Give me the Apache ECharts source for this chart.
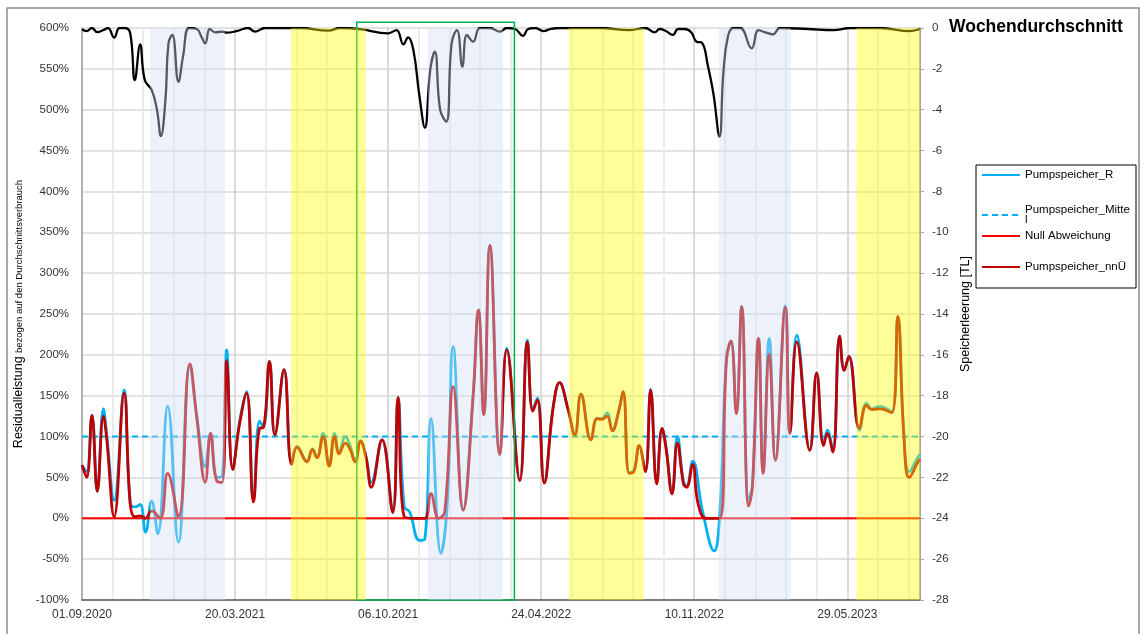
<!DOCTYPE html>
<html>
<head>
<meta charset="utf-8">
<script src="https://cdn.jsdelivr.net/npm/echarts@6/dist/echarts.min.js"></script>
<style>html,body{margin:0;padding:0;background:#fff;}#c{width:1144px;height:634px;}</style>
</head>
<body>
<div id="c"></div>
<script>
// x values are days since 01.09.2020
const xTickLabels = ['01.09.2020','20.03.2021','06.10.2021','24.04.2022','10.11.2022','29.05.2023'];

// Pumpspeicher_nnÜ (%)
const nnuDays = [0,6,13,20,28,32,42,55,63,69,76,83,91,102,112,126,141,150,161,168,176,183,189,197,206,215,224,232,237,245,252,264,274,281,294,301,307,315,323,330,336,344,350,357,364,371,378,392,406,413,421,435,448,456,466,474,485,498,511,518,525,533,546,555,572,582,589,595,604,616,624,635,644,652,665,673,679,686,693,701,707,715,721,728,736,743,751,758,763,771,778,786,790,798,805,816,833,842,848,855,862,871,876,884,890,898,906,919,925,934,951,960,969,974,981,990,996,1002,1016,1025,1032,1043,1058,1066,1074,1081,1093,1095];
const nnuValues = [65,50,126,33,125,100,2,153,18,2,3,0,9,0,55,2,189,123,44,104,46,44,193,60,116,153,20,110,111,192,102,182,66,87,69,84,74,100,64,100,79,92,85,69,94,75,38,96,7,148,2,0,0,30,0,8,161,10,148,255,127,334,78,206,46,216,131,145,43,138,166,134,102,152,96,122,121,125,107,130,155,55,57,89,57,157,42,110,87,30,92,42,38,66,18,0,0,193,217,128,259,15,38,220,55,201,71,258,104,216,83,178,89,104,81,223,181,198,110,138,133,134,129,247,100,50,70,72];

// Pumpspeicher_R (%)
const rDays = [0,6,13,20,28,32,42,55,63,70,76,83,91,99,112,126,141,150,161,168,176,183,189,197,206,215,224,232,237,245,252,264,274,281,294,301,307,315,323,330,336,344,350,357,364,371,378,392,406,413,421,428,441,448,456,469,477,485,498,511,518,525,533,546,555,572,582,589,595,604,616,624,635,644,652,665,673,679,686,693,701,707,715,721,728,736,743,751,758,763,771,778,786,790,798,811,826,833,842,848,855,862,871,876,884,890,898,906,919,925,934,951,960,969,974,981,990,996,1002,1016,1025,1032,1043,1058,1066,1074,1081,1093,1095];
const rValues = [65,57,126,33,134,105,22,157,18,14,17,-17,21,-19,137,-29,187,125,63,104,50,51,206,60,119,155,22,119,112,192,102,182,68,88,70,85,75,104,65,104,80,100,90,70,95,76,44,96,9,148,14,8,-27,-25,122,-43,14,210,10,150,255,127,334,78,208,48,218,133,147,45,138,166,134,102,152,97,122,122,129,108,130,155,56,58,89,58,158,44,110,88,32,100,44,40,70,8,-40,0,195,217,130,259,24,40,220,57,220,72,260,104,224,84,178,91,108,83,223,181,198,108,141,134,137,130,247,102,57,76,78];

// Pumpspeicher_Mittel and Null Abweichung (%)
const refDays = [0,1095];
const mittelValues = [100,100];
const nullValues = [0,0];

// Speicherleerung [TL] (right axis)
const sDays = [0,6,13,20,28,34,42,49,56,63,69,76,82,91,98,103,109,113,118,126,132,140,150,156,161,167,174,183,189,202,217,226,239,285,322,337,363,400,411,420,426,433,441,448,455,461,468,476,483,490,497,503,511,520,533,546,555,566,576,583,592,603,612,625,677,716,736,748,755,763,772,779,788,796,803,810,818,825,833,838,844,851,860,875,884,892,903,912,949,982,1004,1043,1082,1095];
const sValues = [-0.06,-0.15,0,-0.2,-0.1,0,-0.47,0,0,-0.26,-2.55,-0.8,-2.55,-3.03,-4.01,-5.29,-3.52,-0.75,-0.34,-2.63,-1.4,0,-0.05,-0.42,-0.75,-0.05,-0.21,-0.18,-0.23,-0.15,0,-0.18,0,0,-0.13,0,-0.05,-0.26,-0.1,-0.8,-0.46,-1.08,-3.36,-4.88,-2.06,-1.16,-4.01,-4.58,-0.75,-0.1,-1.89,-0.34,-0.67,0,0,-0.18,0,-0.05,-0.39,-0.05,0,-0.15,-0.05,0,0,-0.1,0,-0.21,-0.05,-0.15,-0.34,-0.05,-0.05,-0.21,-0.67,-0.72,-1.89,-3.2,-5.32,-2.22,-0.42,0,0,-1.0,-0.1,-0.2,-0.31,0,-0.05,-0.1,0,0,-0.15,-0.05];

// shaded periods (start day, end day)
const winterBands = [[89,187],[452,550],[832,926]];
const summerBands = [[273,371],[636,734],[1012,1095]];
// highlighted window: start day, end day, bottom %, top %
const focusBox = [[359,565,-100,607]];

const zip = (a, b) => a.map((d, i) => [d, b[i]]);
const FONT = 'Liberation Sans';

const chart = echarts.init(document.getElementById('c'), null, {renderer: 'canvas'});

function bandRenderer(color) {
  return function (params, api) {
    const cs = params.coordSys;
    const p0 = api.coord([api.value(0), 0]);
    const p1 = api.coord([api.value(1), 0]);
    return {
      type: 'rect',
      shape: {x: p0[0], y: cs.y, width: p1[0] - p0[0], height: cs.height},
      style: {fill: color}
    };
  };
}

const legendBase = {
  orient: 'vertical', left: 981, itemWidth: 38, itemHeight: 12, itemGap: 0, padding: 0,
  selectedMode: false, z: 10,
  itemStyle: {opacity: 0, borderWidth: 0},
  textStyle: {fontSize: 11.5, color: '#000', fontFamily: FONT}
};

chart.setOption({
  animation: false,
  textStyle: {fontFamily: FONT},
  title: {
    text: 'Wochendurchschnitt', left: 949, top: 18, padding: 0,
    textStyle: {fontSize: 17.5, fontWeight: 'bold', color: '#000', fontFamily: FONT}
  },
  graphic: [
    {type: 'rect', z: 0, shape: {x: 7, y: 8, width: 1132, height: 640}, style: {fill: 'none', stroke: '#8c8c8c', lineWidth: 1.5}},
    {type: 'rect', z: 1, shape: {x: 976, y: 165, width: 160, height: 123}, style: {fill: '#fff', stroke: '#000', lineWidth: 1}}
  ],
  legend: [
    Object.assign({}, legendBase, {top: 169, data: ['Pumpspeicher_R']}),
    Object.assign({}, legendBase, {top: 204, data: ['Pumpspeicher_Mittel'],
      formatter: () => 'Pumpspeicher_Mitte\nl',
      textStyle: {fontSize: 11.5, color: '#000', fontFamily: FONT, lineHeight: 10}}),
    Object.assign({}, legendBase, {top: 230, data: ['Null Abweichung']}),
    Object.assign({}, legendBase, {top: 261, data: ['Pumpspeicher_nnÜ']})
  ],
  grid: {left: 82, right: 224, top: 28, bottom: 34, containLabel: false},
  xAxis: {
    type: 'value', min: 0, max: 1095, interval: 40,
    axisLine: {show: true, onZero: false, lineStyle: {color: '#595959', width: 1.5}},
    axisTick: {show: false},
    axisLabel: {
      fontSize: 12, color: '#333', margin: 9, showMaxLabel: false,
      formatter: v => (v % 200 === 0 && v / 200 < xTickLabels.length) ? xTickLabels[v / 200] : ''
    },
    splitLine: {show: true, lineStyle: {color: ['#cfcfcf', '#e6e6e6', '#e6e6e6', '#e6e6e6', '#e6e6e6'], width: 1.5}}
  },
  yAxis: [
    {
      type: 'value', min: -100, max: 600, interval: 50,
      axisLine: {show: true, onZero: false, lineStyle: {color: '#a6a6a6', width: 1.5}},
      axisTick: {show: false},
      axisLabel: {fontSize: 11.5, color: '#333', margin: 13, formatter: '{value}%'},
      splitLine: {show: true, lineStyle: {color: '#d9d9d9', width: 1.5}},
      name: '{a|Residualleistung} {b|bezogen auf den Durchschnittsverbrauch}',
      nameLocation: 'middle', nameGap: 52, nameRotate: 90,
      nameTextStyle: {
        color: '#000',
        rich: {
          a: {fontSize: 12.5, color: '#000', fontFamily: FONT, verticalAlign: 'bottom'},
          b: {fontSize: 9.5, color: '#000', fontFamily: FONT, verticalAlign: 'bottom'}
        }
      }
    },
    {
      type: 'value', min: -28, max: 0, interval: 2, position: 'right',
      axisLine: {show: true, onZero: false, lineStyle: {color: '#a6a6a6', width: 2}},
      axisTick: {show: true, length: 4, lineStyle: {color: '#a6a6a6'}},
      axisLabel: {fontSize: 11.5, color: '#333', margin: 12},
      splitLine: {show: false},
      name: 'Speicherleerung [TL]', nameLocation: 'middle', nameGap: 38, nameRotate: 90,
      nameTextStyle: {fontSize: 12.5, color: '#000', fontFamily: FONT}
    }
  ],
  series: [
    {
      name: 'Speicherleerung', type: 'line', yAxisIndex: 1, symbol: 'none', smooth: 0.45, z: 2,
      lineStyle: {color: '#000', width: 2.3}, itemStyle: {color: '#000'},
      data: zip(sDays, sValues)
    },
    {
      name: 'Pumpspeicher_R', type: 'line', symbol: 'none', smooth: 0.45, z: 2,
      lineStyle: {color: '#00b0f0', width: 2.8}, itemStyle: {color: '#00b0f0'},
      data: zip(rDays, rValues)
    },
    {
      name: 'Pumpspeicher_Mittel', type: 'line', symbol: 'none', z: 2,
      lineStyle: {color: '#00b0f0', width: 2, type: [6, 4]}, itemStyle: {color: '#00b0f0'},
      data: zip(refDays, mittelValues)
    },
    {
      name: 'Null Abweichung', type: 'line', symbol: 'none', z: 2,
      lineStyle: {color: '#ff0000', width: 2}, itemStyle: {color: '#ff0000'},
      data: zip(refDays, nullValues)
    },
    {
      name: 'Pumpspeicher_nnÜ', type: 'line', symbol: 'none', smooth: 0.45, z: 3,
      lineStyle: {color: '#c00000', width: 2.8}, itemStyle: {color: '#c00000'},
      data: zip(nnuDays, nnuValues)
    },
    {
      name: 'focus', type: 'custom', silent: true, z: 4, clip: false,
      encode: {x: [0, 1], y: [2, 3]},
      renderItem: function (params, api) {
        const p0 = api.coord([api.value(0), api.value(3)]);
        const p1 = api.coord([api.value(1), api.value(2)]);
        return {
          type: 'rect',
          shape: {x: p0[0], y: p0[1], width: p1[0] - p0[0], height: p1[1] - p0[1]},
          style: {fill: 'none', stroke: '#00b050', lineWidth: 1.5}
        };
      },
      data: focusBox
    },
    {
      name: 'winter', type: 'custom', silent: true, z: 5,
      renderItem: bandRenderer('rgba(210,220,242,0.4)'),
      data: winterBands
    },
    {
      name: 'summer', type: 'custom', silent: true, z: 5,
      renderItem: bandRenderer('rgba(255,255,0,0.4)'),
      data: summerBands
    }
  ]
});
</script>
</body>
</html>
